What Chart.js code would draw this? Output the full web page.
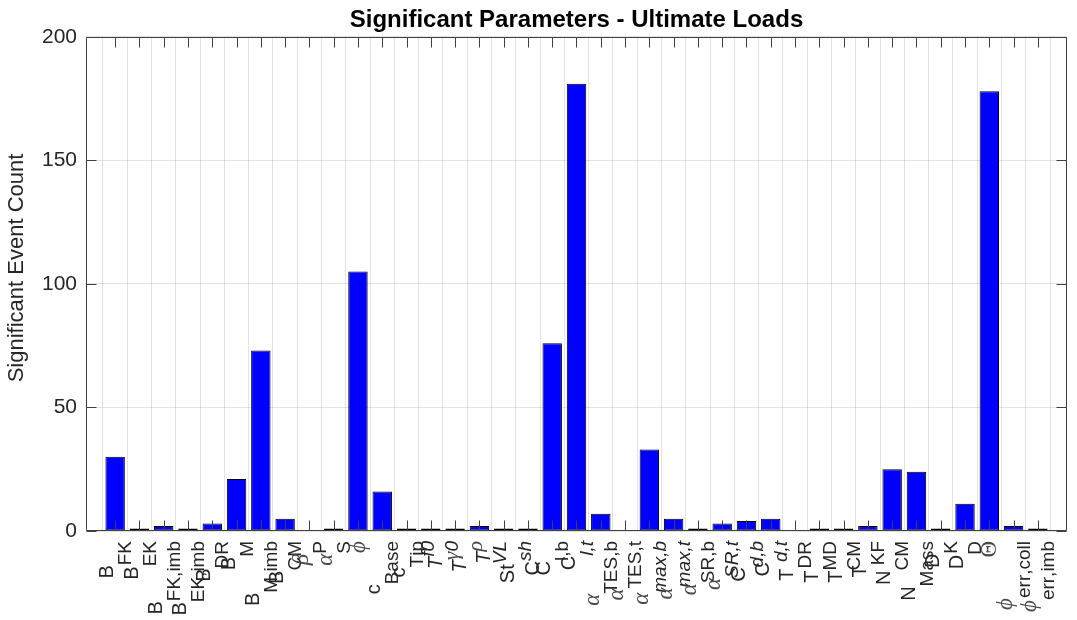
<!DOCTYPE html>
<html>
<head>
<meta charset="utf-8">
<script src="https://cdn.jsdelivr.net/npm/chart.js@4.4.1/dist/chart.umd.min.js"></script>
<style>
  html, body { margin: 0; padding: 0; background: #ffffff; }
  #wrap { width: 1077px; height: 620px; }
</style>
</head>
<body>
<div id="wrap"><canvas id="c" width="1077" height="620"></canvas></div>
<script>
// ---------- data ----------
const chartTitle = 'Significant Parameters - Ultimate Loads';
const yAxisTitle = 'Significant Event Count';
// TeX-like labels: _{} subscript, ^{} superscript, $..$ italic, \name greek
const categories = [
  'B_{FK}', 'B_{EK}', 'B_{FK,imb}', 'B_{EK,imb}', 'B_{DR}', 'B_{M}', 'B_{M,imb}', 'B_{CM}',
  '\\beta_{P}', '\\alpha_{S}', '\\phi', 'c_{Base}', 'c_{Tip}', '$T^{f0}$', '$T^{\\gamma0}$',
  '$T^{\\rho}$', 'St^{$VL$}', 'C^{$sh$}', 'C_{l,b}', 'C_{$l,t$}', '\\alpha_{TES,b}',
  '\\alpha_{TES,t}', '\\alpha_{$max,b$}', '\\alpha_{$max,t$}', '\\alpha_{SR,b}', '\\alpha_{$SR,t$}',
  'C_{$d,b$}', 'C_{$d,t$}', 'T_{DR}', 'T_{MD}', 'T_{CM}', 'T_{KF}', 'N_{CM}', 'N_{Mass}',
  'D_{K}', 'D_{D}', '\\Theta', '\\phi_{err,coll}', '\\phi_{err,imb}'
];
const eventCounts = [
  30, 1, 2, 1, 3, 21, 73, 5,
  0, 1, 105, 16, 1, 1, 1,
  2, 1, 1, 76, 181, 7,
  0, 33, 5, 1, 3,
  4, 5, 0, 1, 1, 2, 25, 24,
  1, 11, 178, 2, 1
];
const yTickValues = [0, 50, 100, 150, 200];

// ---------- style ----------
const X_MIN = -0.2, X_MAX = 40.2;
const Y_MIN = 0, Y_MAX = 200;
const SANS = '"Liberation Sans", Arial, Helvetica, sans-serif';
const SERIF = '"Liberation Serif", "DejaVu Serif", serif';
const TEXT = '#262626';
const AXIS = '#404040';
const GRID = 'rgba(38,38,38,0.13)';
const BAR = '#0000ff';
const MAIN = 20, SUB = 19, SUB_SHIFT = 18, SUP_SHIFT = 8, GREEK_EXTRA = 3;
const TICK_LEN = 10;

const GREEK = { alpha: '\u03B1', beta: '\u03B2', gamma: '\u03B3', rho: '\u03C1', phi: '\u03D5', Theta: '\u0398' };

function parseTex(s) {
  const segs = [];
  let italic = false;
  function group(str, lv) {
    let j = 0;
    while (j < str.length) {
      const ch = str[j];
      if (ch === '$') { italic = !italic; j++; continue; }
      if (ch === '\\') {
        let k = j + 1;
        while (k < str.length && /[A-Za-z]/.test(str[k])) k++;
        const name = str.slice(j + 1, k);
        segs.push({ t: GREEK[name] || name, lv, it: name !== 'Theta', gr: true });
        j = k; continue;
      }
      if (ch === '_' || ch === '^') {
        const nl = ch === '_' ? 1 : -1;
        let body;
        if (str[j + 1] === '{') {
          let depth = 0, k = j + 1;
          for (; k < str.length; k++) {
            if (str[k] === '{') depth++;
            else if (str[k] === '}') { depth--; if (depth === 0) break; }
          }
          body = str.slice(j + 2, k); j = k + 1;
        } else { body = str[j + 1]; j += 2; }
        group(body, nl);
        continue;
      }
      segs.push({ t: ch, lv, it: italic, gr: false });
      j++;
    }
  }
  group(s, 0);
  return segs;
}

function segSize(s) { return s.lv === 0 ? MAIN : SUB; }
function segFont(s) {
  const size = segSize(s) + (s.gr ? GREEK_EXTRA : 0);
  return (s.it ? 'italic ' : '') + size + 'px ' + (s.gr ? SERIF : SANS);
}
function segBase(s) { return s.lv === 0 ? 0 : (s.lv === 1 ? SUB_SHIFT : -SUP_SHIFT); }

function drawTex(ctx, str, px, yEnd) {
  const segs = parseTex(str);
  let W = 0, lo = Infinity, hi = -Infinity;
  segs.forEach(s => {
    ctx.font = segFont(s);
    s.w = ctx.measureText(s.t).width;
    W += s.w;
    const b = segBase(s);
    lo = Math.min(lo, b - 0.72 * segSize(s));
    hi = Math.max(hi, b);
  });
  const shift = -(lo + hi) / 2;
  ctx.save();
  ctx.translate(px, yEnd);
  ctx.rotate(-Math.PI / 2);
  ctx.textBaseline = 'alphabetic';
  ctx.textAlign = 'left';
  let x = -W;
  segs.forEach(s => {
    ctx.font = segFont(s);
    ctx.fillStyle = s.gr ? '#4a4a4a' : TEXT;
    ctx.fillText(s.t, x, segBase(s) + shift);
    x += s.w;
  });
  ctx.restore();
}

const texLabels = {
  id: 'texLabels',
  afterDraw(chart) {
    const ctx = chart.ctx, xs = chart.scales.x, a = chart.chartArea;
    categories.forEach((lab, i) => drawTex(ctx, lab, xs.getPixelForValue(i + 1), a.bottom + 10));
    // y-axis title
    ctx.save();
    ctx.translate(17, 268);
    ctx.rotate(-Math.PI / 2);
    ctx.font = '22px ' + SANS;
    ctx.fillStyle = TEXT;
    ctx.textAlign = 'center';
    ctx.textBaseline = 'middle';
    ctx.fillText(yAxisTitle, 0, 0);
    ctx.restore();
  }
};

const axesBox = {
  id: 'axesBox',
  afterDatasetsDraw(chart) {
    const { ctx, chartArea: a, scales: { x, y } } = chart;
    const L = Math.round(a.left) + 0.5, R = Math.round(a.right) - 0.5;
    const T = Math.round(a.top) + 0.5, B = Math.round(a.bottom) - 0.5;
    ctx.save();
    ctx.strokeStyle = AXIS;
    ctx.lineWidth = 1;
    ctx.beginPath();
    categories.forEach((_, i) => {
      const px = Math.round(x.getPixelForValue(i + 1)) + 0.5;
      ctx.moveTo(px, B); ctx.lineTo(px, B - TICK_LEN);
      ctx.moveTo(px, T); ctx.lineTo(px, T + TICK_LEN);
    });
    yTickValues.forEach(v => {
      const py = Math.round(y.getPixelForValue(v)) + 0.5;
      ctx.moveTo(L, py); ctx.lineTo(L + TICK_LEN, py);
      ctx.moveTo(R, py); ctx.lineTo(R - TICK_LEN, py);
    });
    ctx.stroke();
    ctx.beginPath();
    ctx.rect(L, T, R - L, B - T);
    ctx.stroke();
    ctx.restore();
  }
};

new Chart(document.getElementById('c'), {
  type: 'bar',
  data: {
    datasets: [{
      label: yAxisTitle,
      data: categories.map((c, i) => ({ x: i + 1, y: eventCounts[i] })),
      backgroundColor: BAR,
      borderColor: '#000000',
      borderWidth: ctx => (ctx.raw && ctx.raw.y === 0 ? 0 : 1),
      borderSkipped: false,
      categoryPercentage: 0.8,
      barPercentage: 1.0
    }]
  },
  options: {
    responsive: false,
    animation: false,
    devicePixelRatio: 1,
    layout: { padding: { left: 0, right: 10, top: 0, bottom: 0 } },
    plugins: {
      legend: { display: false },
      tooltip: { enabled: false },
      title: {
        display: true,
        text: chartTitle,
        fullSize: false,
        color: '#000000',
        font: { family: SANS, size: 24, weight: 'bold' },
        padding: { top: 6, bottom: 2 }
      }
    },
    scales: {
      x: {
        type: 'linear',
        min: X_MIN,
        max: X_MAX,
        offset: false,
        afterBuildTicks: ax => { ax.ticks = categories.map((_, i) => ({ value: i + 1 })); },
        ticks: { display: false },
        grid: { color: GRID, drawTicks: false },
        border: { display: false },
        afterFit: s => { s.height = 89; }
      },
      y: {
        min: Y_MIN,
        max: Y_MAX,
        afterBuildTicks: ax => { ax.ticks = yTickValues.map(v => ({ value: v })); },
        ticks: { font: { family: SANS, size: 21 }, color: TEXT, padding: 9 },
        grid: { color: GRID, drawTicks: false },
        border: { display: false },
        title: { display: false },
        afterFit: s => { s.width = 86; }
      }
    }
  },
  plugins: [texLabels, axesBox]
});
</script>
</body>
</html>
